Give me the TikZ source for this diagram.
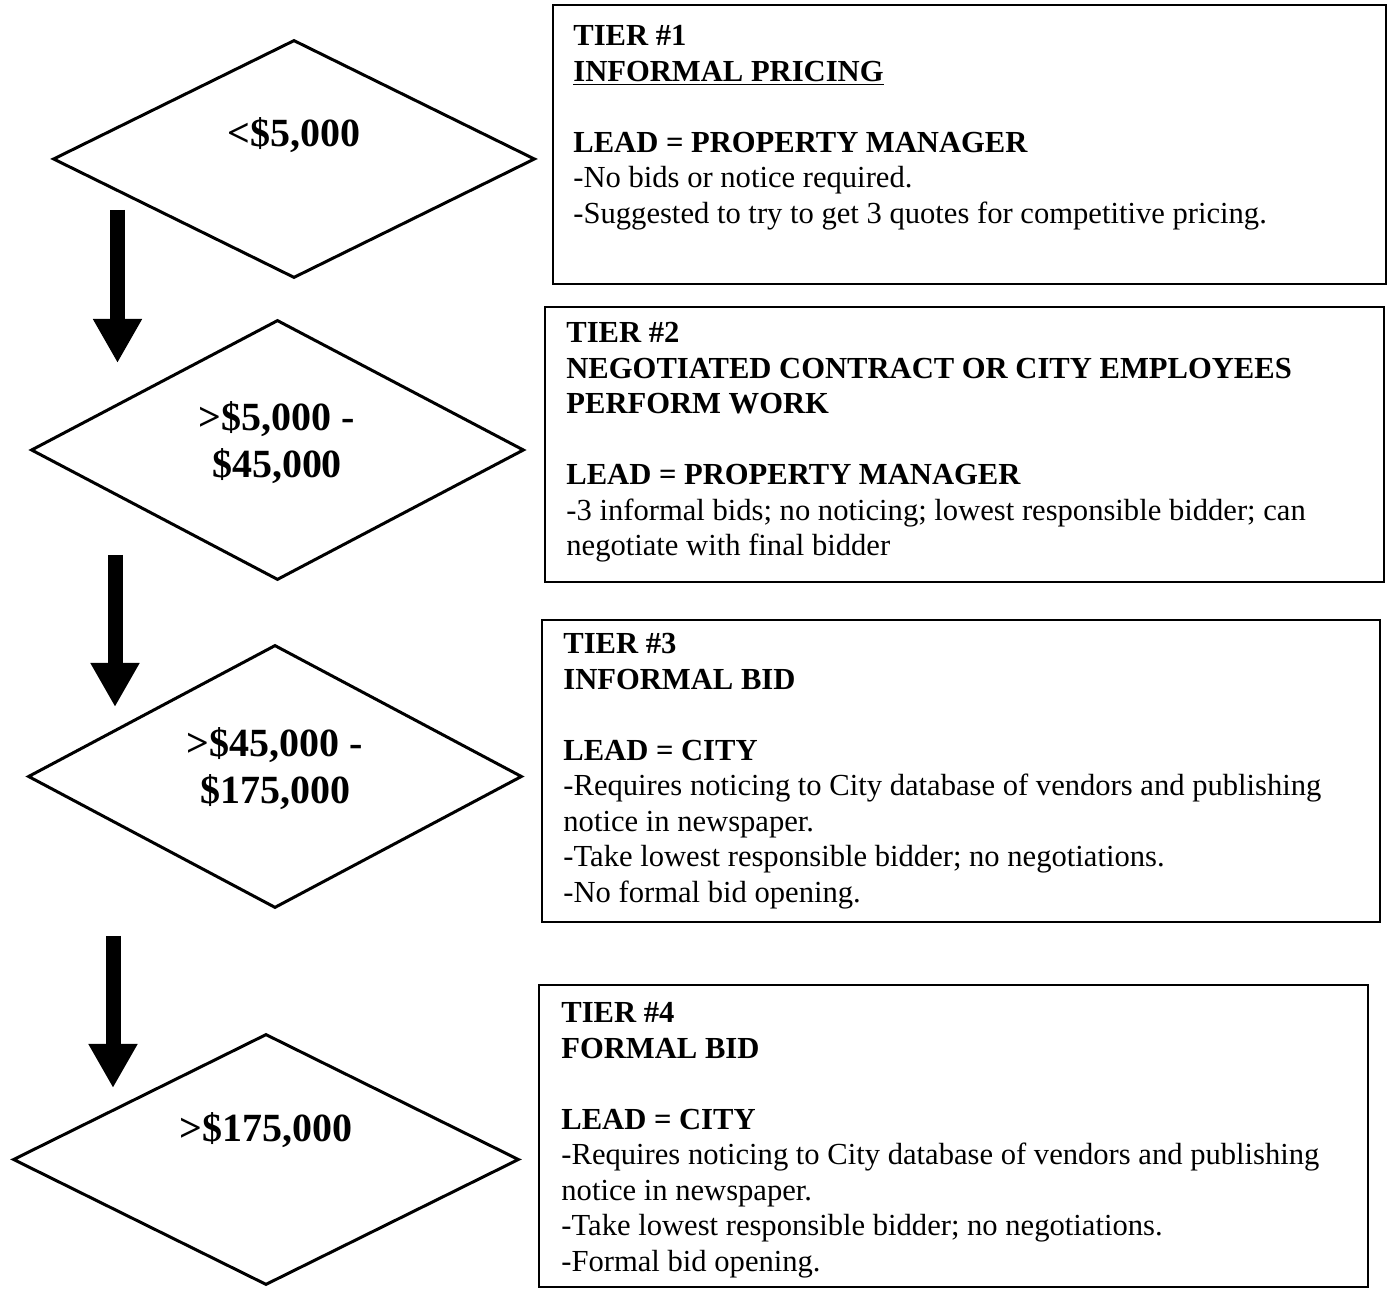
\documentclass[tikz,border=0pt]{standalone}
\usepackage{fontspec}
\setmainfont{Liberation Serif}
\usetikzlibrary{shapes.geometric,arrows.meta}
\tikzset{
  pricediamond/.style={diamond, draw, line width=1.5pt, inner sep=0pt},
  amount/.style={font=\fontsize{20}{23.5}\selectfont\bfseries, align=center, inner sep=0pt},
  tierbox/.style={rectangle, draw, line width=1pt, inner sep=0pt},
  tiertext/.style={font=\fontsize{15.3}{17.75}\selectfont, align=left, anchor=north west, inner sep=0pt},
  down/.style={line width=7.5pt, -{Triangle[width=23pt,length=22pt]}}
}

\begin{document}
\begin{tikzpicture}[x=0.5pt,y=-0.5pt]
        \useasboundingbox (0,0) rectangle (1389,1293);
        \node[pricediamond, minimum width=241pt, minimum height=119pt] (d1) at (294,159) {};
        \node[pricediamond, minimum width=246.5pt, minimum height=130pt] (d2) at (277.5,450) {};
        \node[pricediamond, minimum width=247pt, minimum height=131.5pt] (d3) at (275,776.5) {};
        \node[pricediamond, minimum width=253pt, minimum height=125.5pt] (d4) at (266,1159.5) {};
        \node[amount] (a1) at (294,135) {<\$5,000};
        \node[amount] (a2) at (277,443) {>\$5,000 -\\\$45,000};
        \node[amount] (a3) at (275,769) {>\$45,000 -\\\$175,000};
        \node[amount] (a4) at (266,1130) {>\$175,000};
        \coordinate (s1) at (117.5,210);
        \coordinate (e1) at (117.5,363);
        \coordinate (s2) at (115,555);
        \coordinate (e2) at (115,707);
        \coordinate (s3) at (113,936);
        \coordinate (e3) at (113,1088);
        \draw[down] (s1) -- (e1);
        \draw[down] (s2) -- (e2);
        \draw[down] (s3) -- (e3);
        \node[tierbox, minimum width=416.5pt, minimum height=139.5pt] (b1) at (969.5,144.5) {};
        \node[tierbox, minimum width=419.5pt, minimum height=137.5pt] (b2) at (964.5,444.5) {};
        \node[tierbox, minimum width=419pt, minimum height=151pt] (b3) at (961,771) {};
        \node[tierbox, minimum width=414.5pt, minimum height=151pt] (b4) at (953.5,1136) {};
        \node[tiertext] (t1) at (573,25) {\textbf{TIER \#1}\\
            \textbf{\underline{INFORMAL PRICING}}\\[17.75pt]
            \textbf{LEAD = PROPERTY MANAGER}\\
            -No bids or notice required.\\
            -Suggested to try to get 3 quotes for competitive pricing.};
        \node[tiertext] (t2) at (566,322) {\textbf{TIER \#2}\\
            \textbf{NEGOTIATED CONTRACT OR CITY EMPLOYEES}\\
            \textbf{PERFORM WORK}\\[17.75pt]
            \textbf{LEAD = PROPERTY MANAGER}\\
            -3 informal bids; no noticing; lowest responsible bidder; can\\
            negotiate with final bidder};
        \node[tiertext] (t3) at (563,633) {\textbf{TIER \#3}\\
            \textbf{INFORMAL BID}\\[17.75pt]
            \textbf{LEAD = CITY}\\
            -Requires noticing to City database of vendors and publishing\\
            notice in newspaper.\\
            -Take lowest responsible bidder; no negotiations.\\
            -No formal bid opening.};
        \node[tiertext] (t4) at (561,1002) {\textbf{TIER \#4}\\
            \textbf{FORMAL BID}\\[17.75pt]
            \textbf{LEAD = CITY}\\
            -Requires noticing to City database of vendors and publishing\\
            notice in newspaper.\\
            -Take lowest responsible bidder; no negotiations.\\
            -Formal bid opening.};
    \end{tikzpicture}
\end{document}
